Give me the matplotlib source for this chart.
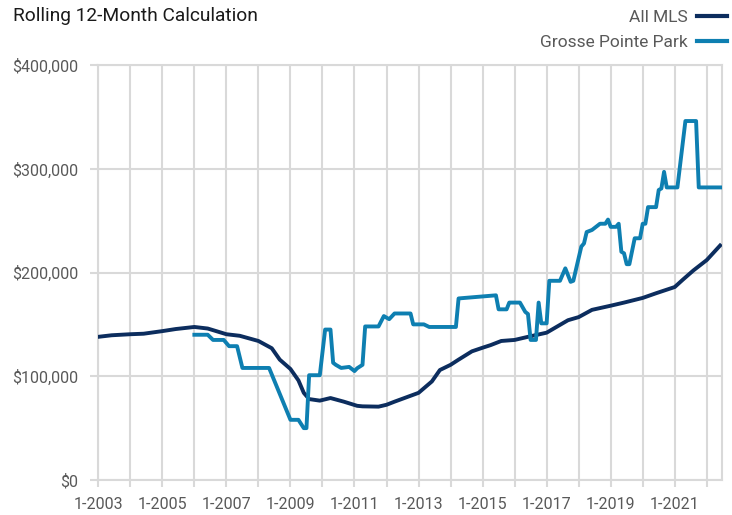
import matplotlib
matplotlib.use("Agg")
import matplotlib.pyplot as plt
from matplotlib.ticker import FuncFormatter

# values, in $ thousands, at "YYYY-MM" dates
mls_dates = ["2003-01", "2003-06", "2004-01", "2004-06", "2005-01", "2005-06",
             "2006-01", "2006-06", "2007-01", "2007-06", "2008-01", "2008-06",
             "2008-09", "2009-01", "2009-04", "2009-06", "2009-08", "2009-12",
             "2010-04", "2010-09", "2011-02", "2011-04", "2011-10", "2012-01",
             "2012-04", "2013-01", "2013-06", "2013-09", "2014-01", "2014-04",
             "2014-09", "2015-01", "2015-04", "2015-08", "2016-01", "2016-06",
             "2017-01", "2017-05", "2017-09", "2018-01", "2018-06", "2019-01",
             "2019-06", "2020-01", "2020-06", "2021-01", "2021-04", "2021-08",
             "2022-01", "2022-06"]
mls_values = [138, 139.5, 140.5, 141, 143.5, 145.5,
              147.5, 146, 140.5, 139, 134, 127,
              116, 107, 96, 84, 78, 76.5,
              79, 75.5, 71.5, 71, 70.7, 72.5,
              75.5, 84, 95, 106, 111, 116,
              124, 127.5, 130, 134, 135, 138,
              142, 148, 154, 157, 164, 168,
              171, 175.5, 180, 186, 193, 202,
              212, 226]

gpp_dates = ["2006-01", "2006-06", "2006-08", "2006-12", "2007-02", "2007-05",
             "2007-07", "2008-05", "2009-01", "2009-04", "2009-06", "2009-07",
             "2009-08", "2009-12", "2010-02", "2010-04", "2010-05", "2010-06",
             "2010-08", "2010-11", "2011-01", "2011-02", "2011-04", "2011-05",
             "2011-10", "2011-12", "2012-02", "2012-04", "2012-10", "2012-11",
             "2013-03", "2013-05", "2014-03", "2014-04", "2015-06", "2015-07",
             "2015-10", "2015-11", "2016-03", "2016-05", "2016-06", "2016-07",
             "2016-09", "2016-10", "2016-11", "2017-01", "2017-02", "2017-06",
             "2017-08", "2017-10", "2017-11", "2018-02", "2018-03", "2018-04",
             "2018-06", "2018-09", "2018-11", "2018-12", "2019-01", "2019-03",
             "2019-04", "2019-05", "2019-06", "2019-07", "2019-08", "2019-10",
             "2019-12", "2020-01", "2020-02", "2020-03", "2020-06", "2020-07",
             "2020-08", "2020-09", "2020-10", "2021-02", "2021-05", "2021-09",
             "2021-10", "2022-06"]
gpp_values = [140, 140, 135, 135, 129, 129,
              108, 108, 58, 58, 50, 50,
              101, 101, 145, 145, 113, 111,
              108, 109, 105, 107.7, 111, 148,
              148, 158, 155, 160.5, 160.5, 150,
              150, 147.5, 147.5, 175, 178, 164.5,
              164.5, 171, 171, 162, 160, 135,
              135, 171, 151, 151, 192, 192,
              204, 191, 192, 225, 228, 239,
              241, 247, 247, 251, 244, 244,
              247, 220, 218.5, 208, 208, 233,
              233, 247, 247, 263, 263, 279.5,
              281, 297, 282, 282, 346, 346,
              282, 282]

years = list(range(2003, 2023))
y_ticks = [0, 100000, 200000, 300000, 400000]

navy = "#0c2d5e"
blue = "#0e7fb1"
grid = "#d9d9d9"
text_grey = "#595959"

plt.rcParams["font.family"] = ["Roboto", "DejaVu Sans"]


def month_index(d):
    y, m = d.split("-")
    return (int(y) - 2003) * 12 + int(m) - 1


fig = plt.figure(figsize=(7.32, 5.15), dpi=100)
ax = fig.add_axes([98.3 / 732, 35 / 515, 623.4 / 732, 415 / 515])

ax.plot([month_index(d) for d in mls_dates], [v * 1000 for v in mls_values],
        color=navy, lw=2.8, label="All MLS", zorder=3)
ax.plot([month_index(d) for d in gpp_dates], [v * 1000 for v in gpp_values],
        color=blue, lw=2.8, label="Grosse Pointe Park", zorder=3)

ax.set_xlim(0, 233.6)
ax.set_ylim(0, 400000)
ax.set_xticks([(y - 2003) * 12 for y in years])
ax.set_xticklabels([f"1-{y}" if (y - 2003) % 2 == 0 else "" for y in years])
ax.set_yticks(y_ticks)
ax.yaxis.set_major_formatter(FuncFormatter(lambda v, p: f"${v:,.0f}"))

ax.grid(True, color=grid, lw=1.5, zorder=0)
ax.set_axisbelow(True)
for s in ax.spines.values():
    s.set_color(grid)
    s.set_linewidth(1.5)
ax.tick_params(axis="both", colors=grid, labelcolor=text_grey, labelsize=11.5, width=1.5)
ax.tick_params(axis="y", length=5.5, pad=9)
ax.tick_params(axis="x", length=5, pad=7)

fig.text(13 / 732, 1 - 21 / 515, "Rolling 12-Month Calculation", fontsize=13.8,
         color="#1a1a1a", va="baseline", ha="left")

leg = ax.legend(loc="upper right", bbox_to_anchor=(727 / 732, 1 - 10 / 515),
                bbox_transform=fig.transFigure, frameon=False, markerfirst=False,
                fontsize=12.5, handlelength=1.75, handletextpad=0.5, labelspacing=0.55,
                borderaxespad=0, borderpad=0)
for t in leg.get_texts():
    t.set_color(text_grey)
for l in leg.get_lines():
    l.set_linewidth(3)

fig.savefig("out.png", dpi=100)
